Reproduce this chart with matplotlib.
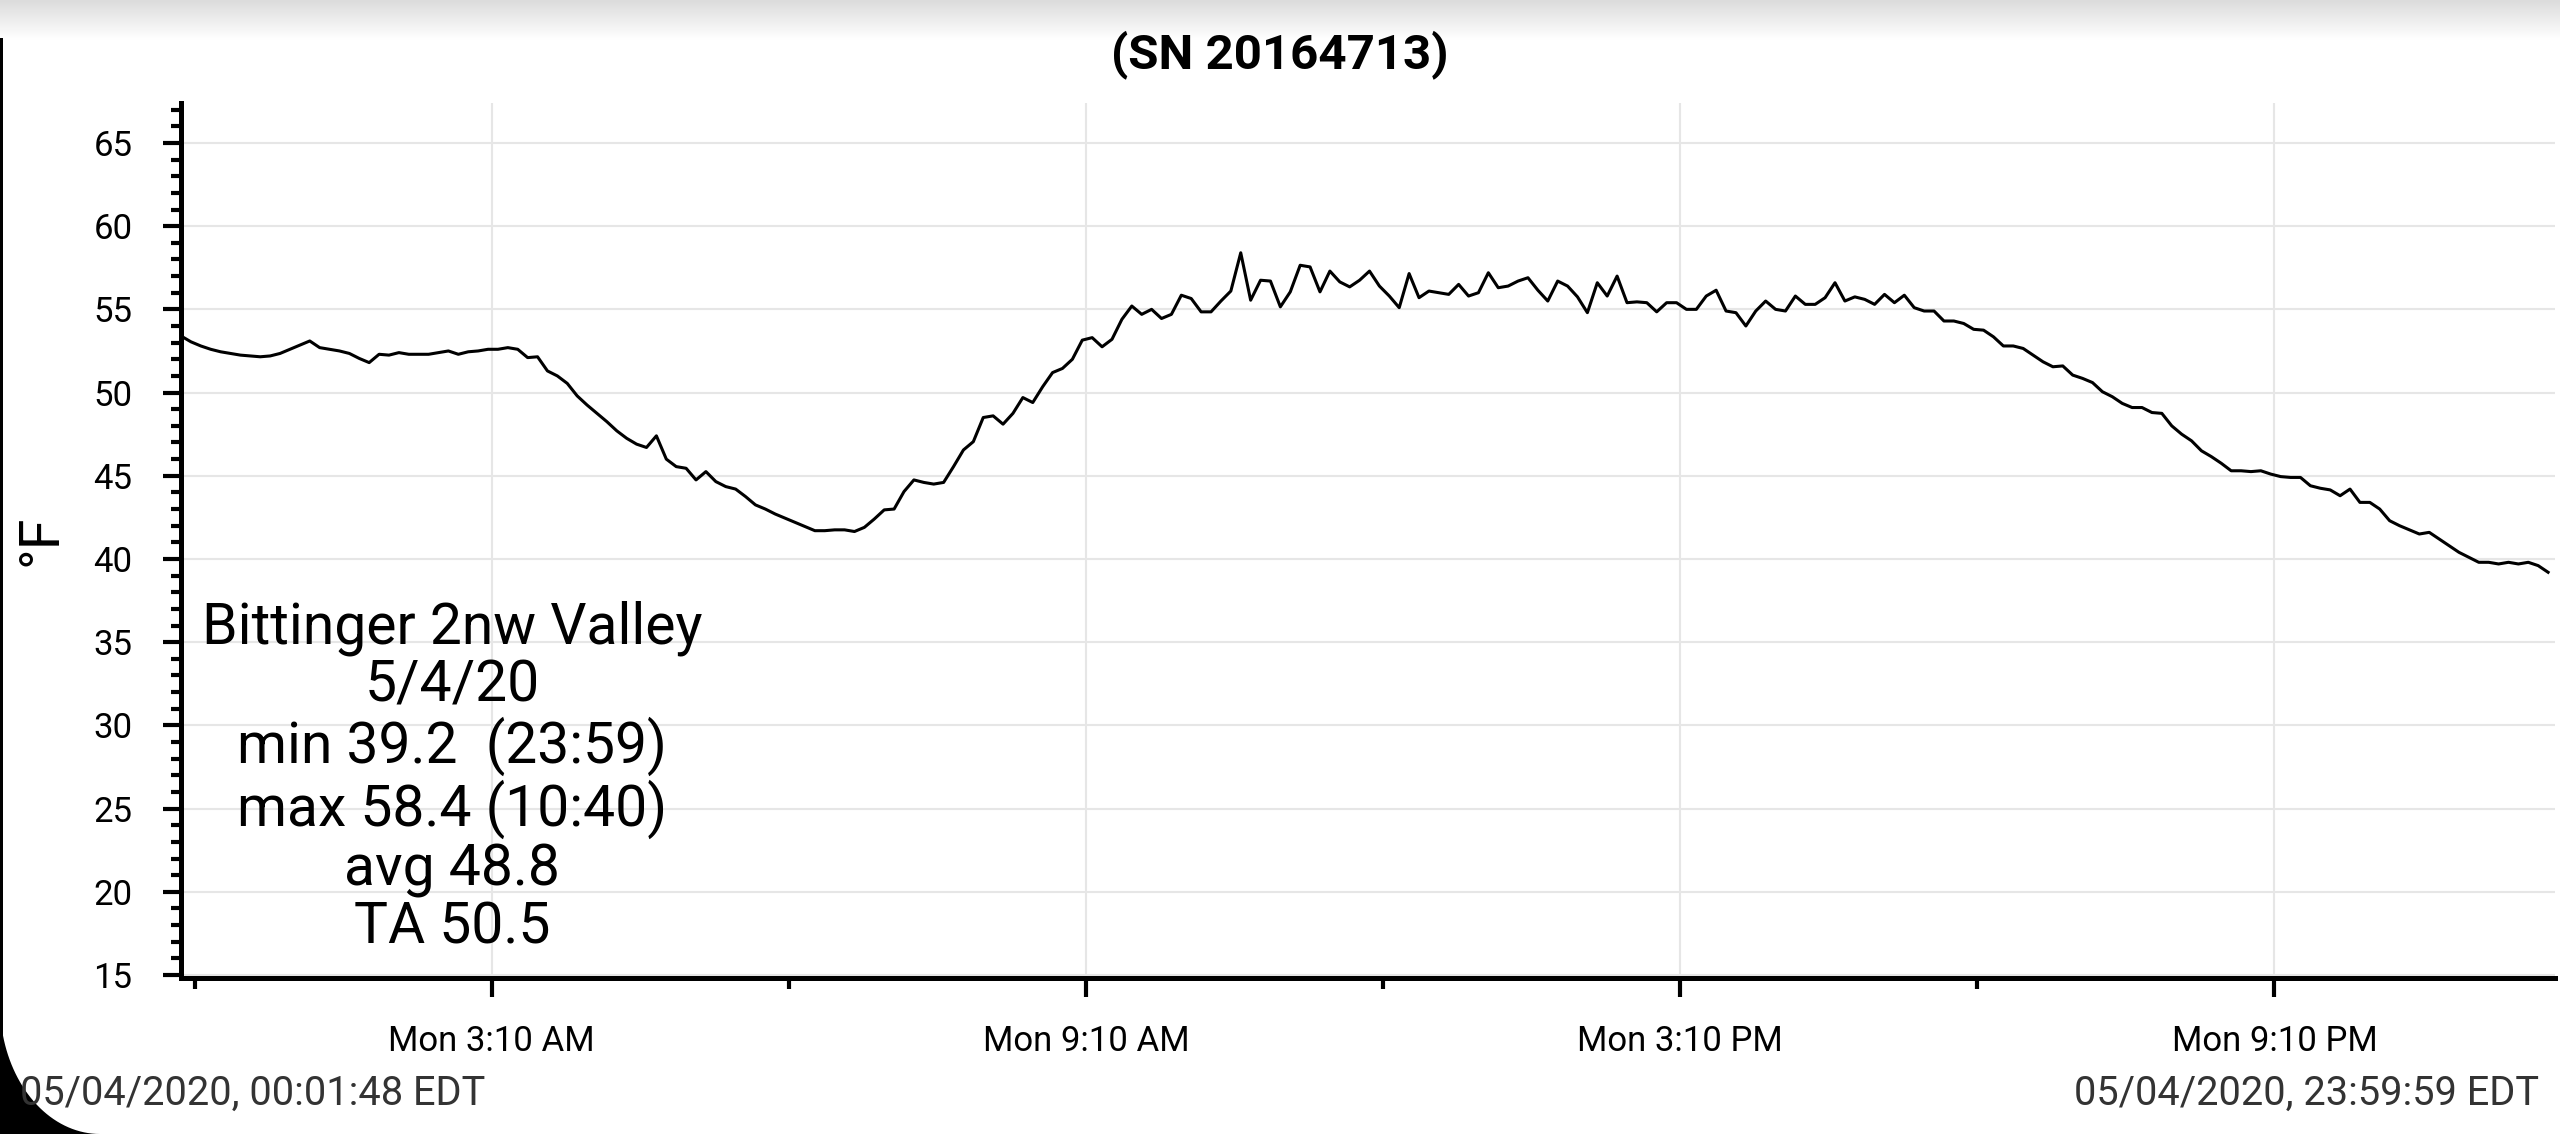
import datetime as dt
import numpy as np
import matplotlib
matplotlib.use('Agg')
import matplotlib.pyplot as plt
from matplotlib.colors import LinearSegmentedColormap
from matplotlib.patches import Rectangle, Polygon
from matplotlib.ticker import MultipleLocator

plt.rcParams['font.family'] = ['Roboto', 'DejaVu Sans']

# logger readings (deg F), one every 6 minutes starting 00:01:48
temps_f = [
    53.4, 53.05, 52.8, 52.6, 52.45, 52.35, 52.25, 52.2, 52.15, 52.2,
    52.35, 52.6, 52.85, 53.1, 52.7, 52.6, 52.5, 52.35, 52.05, 51.8,
    52.3, 52.25, 52.4, 52.3, 52.3, 52.3, 52.4, 52.5, 52.3, 52.45,
    52.5, 52.6, 52.6, 52.7, 52.6, 52.1, 52.15, 51.3, 51.0, 50.55,
    49.8, 49.25, 48.75, 48.25, 47.7, 47.25, 46.9, 46.7, 47.4, 46.0,
    45.55, 45.45, 44.75, 45.25, 44.65, 44.35, 44.2, 43.75, 43.25, 43.0,
    42.7, 42.45, 42.2, 41.95, 41.7, 41.7, 41.75, 41.75, 41.65, 41.9,
    42.4, 42.95, 43.0, 44.05, 44.75, 44.6, 44.5, 44.6, 45.55, 46.55,
    47.05, 48.5, 48.6, 48.1, 48.75, 49.7, 49.4, 50.35, 51.2, 51.45,
    52.0, 53.15, 53.3, 52.75, 53.2, 54.4, 55.2, 54.7, 55.0, 54.45,
    54.7, 55.85, 55.65, 54.85, 54.85, 55.5, 56.1, 58.4, 55.55, 56.75,
    56.7, 55.15, 56.05, 57.65, 57.55, 56.05, 57.3, 56.65, 56.35, 56.75,
    57.3, 56.4, 55.8, 55.1, 57.15, 55.7, 56.1, 56.0, 55.9, 56.5,
    55.8, 56.0, 57.2, 56.3, 56.4, 56.7, 56.9, 56.15, 55.5, 56.7,
    56.4, 55.75, 54.8, 56.6, 55.8, 57.0, 55.4, 55.45, 55.4, 54.85,
    55.4, 55.4, 55.0, 55.0, 55.8, 56.15, 54.9, 54.8, 54.0, 54.9,
    55.5, 55.0, 54.9, 55.8, 55.3, 55.3, 55.7, 56.6, 55.5, 55.75,
    55.6, 55.3, 55.9, 55.4, 55.85, 55.1, 54.9, 54.9, 54.3, 54.3,
    54.15, 53.8, 53.75, 53.35, 52.8, 52.8, 52.65, 52.25, 51.85, 51.55,
    51.6, 51.05, 50.85, 50.6, 50.05, 49.75, 49.35, 49.1, 49.1, 48.8,
    48.75, 48.0, 47.5, 47.1, 46.5, 46.15, 45.75, 45.3, 45.3, 45.25,
    45.3, 45.1, 44.95, 44.9, 44.9, 44.4, 44.25, 44.15, 43.8, 44.2,
    43.4, 43.4, 43.0, 42.3, 42.0, 41.75, 41.5, 41.6, 41.2, 40.8,
    40.4, 40.1, 39.8, 39.8, 39.7, 39.8, 39.7, 39.8, 39.6, 39.2,
]
start = dt.datetime(2020, 5, 4, 0, 1, 48)
end = dt.datetime(2020, 5, 4, 23, 59, 59)
step_min = 6
times = [start + dt.timedelta(minutes=step_min * i) for i in range(len(temps_f))]

major_ticks = [dt.datetime(2020, 5, 4, h, 10) for h in (3, 9, 15, 21)]
major_labels = ['Mon 3:10 AM', 'Mon 9:10 AM', 'Mon 3:10 PM', 'Mon 9:10 PM']
minor_ticks = [dt.datetime(2020, 5, 4, h, 10) for h in (0, 6, 12, 18)]

title = '(SN 20164713)'
stats_text = 'Bittinger 2nw Valley\n5/4/20\nmin 39.2  (23:59)\nmax 58.4 (10:40)\navg 48.8\nTA 50.5'
start_label = '05/04/2020, 00:01:48 EDT'
end_label = '05/04/2020, 23:59:59 EDT'

W, H = 2560, 1134
fig = plt.figure(figsize=(W / 100, H / 100), dpi=100, facecolor='white')

# screenshot frame: grey shade at the top, black edge / rounded corner bottom left
bg = fig.add_axes([0, 0, 1, 1], zorder=-1)
bg.set_xlim(0, W)
bg.set_ylim(H, 0)
bg.axis('off')
shade = LinearSegmentedColormap.from_list('shade', ['#dcdcdc', '#ffffff'])
bg.imshow(np.linspace(0, 1, 60)[:, None], cmap=shade, extent=[0, W, 40, 0], aspect='auto')
bg.add_patch(Rectangle((0, 38), 3, H - 38, color='black', lw=0))
rx, ry = 100, 130
th = np.linspace(0, np.pi / 2, 40)
corner = np.column_stack([rx - rx * np.cos(th), H - ry + ry * np.sin(th)])
corner = np.vstack([corner, [[0, H]]])
bg.add_patch(Polygon(corner, closed=True, color='black', lw=0))

ax = fig.add_axes([181 / W, (H - 978) / H, (2555 - 181) / W, (978 - 103) / H])
ax.plot(times, temps_f, color='black', linewidth=2.2)

ax.set_xlim(start, end)
ax.set_ylim(14.82, 67.4)
ax.set_xticks(major_ticks, labels=major_labels)
ax.set_xticks(minor_ticks, minor=True)
ax.yaxis.set_major_locator(MultipleLocator(5))
ax.yaxis.set_minor_locator(MultipleLocator(1))

ax.set_axisbelow(True)
ax.grid(True, which='major', color='#e6e6e6', linewidth=1.5)

for s in ('top', 'right'):
    ax.spines[s].set_visible(False)
for s in ('left', 'bottom'):
    ax.spines[s].set_linewidth(3.6)
    ax.spines[s].set_color('black')

ax.tick_params(axis='x', which='major', length=14, width=3, pad=20, labelsize=25)
ax.tick_params(axis='x', which='minor', length=8, width=3)
ax.tick_params(axis='y', which='major', length=13, width=3, pad=22, labelsize=25)
ax.tick_params(axis='y', which='minor', length=7, width=3)

ax.set_ylabel('°F', fontsize=40, va='center')
ax.yaxis.set_label_coords(-0.059, 0.5)

fig.text(0.5, 0.952, title, ha='center', va='center', fontsize=35.5, fontweight='bold')
fig.text(452 / W, 0.314, stats_text, ha='center', va='center', fontsize=41,
         linespacing=1.07, multialignment='center')
fig.text(20 / W, 1 - 1093 / H, start_label, ha='left', va='center', fontsize=28.6, color='#333333')
fig.text(2539 / W, 1 - 1093 / H, end_label, ha='right', va='center', fontsize=28.6, color='#333333')

fig.savefig('out.png', dpi=100, facecolor='white')
